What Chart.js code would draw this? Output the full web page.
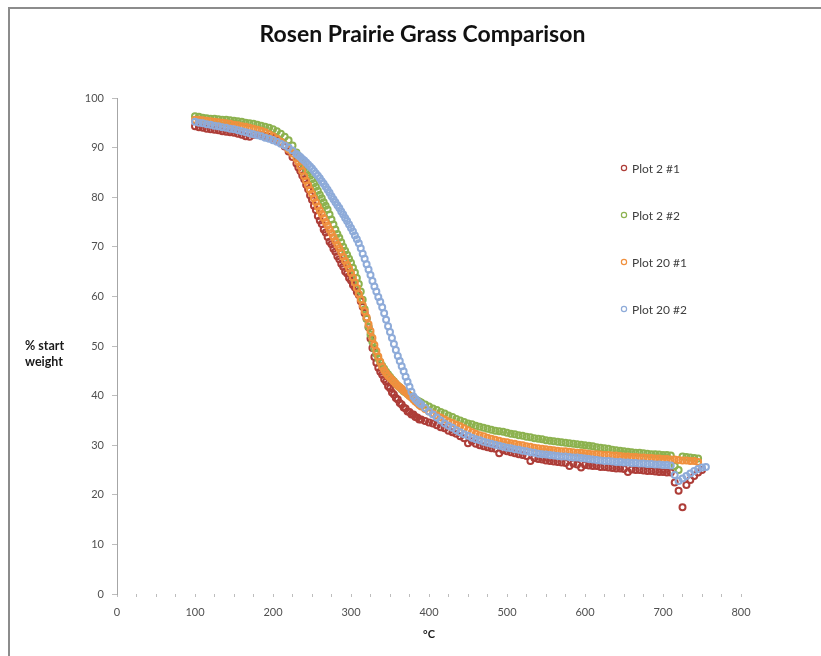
<!DOCTYPE html>
<html>
<head>
<meta charset="utf-8">
<title>Rosen Prairie Grass Comparison</title>
<script src="https://cdn.jsdelivr.net/npm/chart.js@4.4.0/dist/chart.umd.min.js"></script>
<style>
  html, body { margin: 0; padding: 0; background: #fff; overflow: hidden; }
  #chart { display: block; }
</style>
</head>
<body>
<canvas id="chart" width="821" height="656"></canvas>
<script>
// temperature, °C (finer steps through the steep part)
const temps = [
  100,105,110,115,120,125,130,135,140,145,
  150,155,160,165,170,175,180,185,190,195,
  200,205,210,215,220,225,230,
  232.5,235,237.5,240,242.5,245,247.5,250,252.5,255,
  257.5,260,262.5,265,267.5,270,272.5,275,277.5,280,
  282.5,285,287.5,290,292.5,295,297.5,300,302.5,305,
  307.5,310,312.5,315,317.5,320,322.5,325,327.5,330,
  332.5,335,337.5,340,342.5,345,347.5,350,352.5,355,
  357.5,360,362.5,365,367.5,370,372.5,375,377.5,380,
  382.5,385,387.5,
  390,395,400,405,410,415,420,425,430,435,
  440,445,450,455,460,465,470,475,480,485,
  490,495,500,505,510,515,520,525,530,535,
  540,545,550,555,560,565,570,575,580,585,
  590,595,600,605,610,615,620,625,630,635,
  640,645,650,655,660,665,670,675,680,685,
  690,695,700,705,710,715,720,725,730,735,
  740,745,750,755
];

// % start weight
const plot2_1 = [
  94.3,94.1,94.0,93.8,93.7,93.6,93.5,93.3,93.2,93.1,
  93.0,92.8,92.6,92.3,92.2,92.6,92.6,92.5,92.4,92.2,
  92.0,91.6,91.0,90.2,89.2,88.1,86.8,
  86.0,85.3,84.4,83.6,82.5,81.6,80.4,79.5,78.3,77.4,
  76.2,75.3,74.6,73.5,72.9,72.0,71.0,70.5,69.6,69.0,
  68.1,67.5,66.6,66.0,65.0,64.6,63.7,63.2,62.3,61.8,
  60.9,60.3,59.0,57.9,56.6,55.5,53.8,51.5,49.6,47.8,
  46.6,45.6,44.8,44.2,43.3,42.8,41.9,41.5,40.6,40.2,
  39.5,39.2,38.5,38.2,37.6,37.4,36.8,36.7,36.2,36.2,
  35.7,35.6,35.2,
  35.2,34.9,34.6,34.4,34.0,33.6,33.4,32.9,32.6,32.3,
  31.8,31.4,30.4,30.8,30.3,30.0,29.8,29.6,29.4,29.3,
  28.4,29.0,28.8,28.6,28.4,28.2,28.0,27.8,26.8,27.4,
  27.2,27.1,26.9,26.8,26.7,26.6,26.5,26.4,25.8,26.3,
  26.1,25.5,26.0,25.9,25.8,25.8,25.6,25.6,25.5,25.4,
  25.3,25.3,25.2,24.6,25.1,25.0,25.0,24.9,24.8,24.8,
  24.7,24.6,24.6,24.5,24.5,22.5,20.8,17.5,22.0,23.0,
  23.8,24.5,25.0,null
];

const plot2_2 = [
  96.3,96.2,96.0,95.9,95.8,95.8,95.7,95.6,95.6,95.5,
  95.4,95.3,95.2,95.0,94.9,94.8,94.6,94.4,94.2,94.0,
  93.7,93.3,92.8,92.2,91.5,90.4,89.0,
  88.3,87.7,87.0,86.3,85.6,85.0,84.3,83.6,82.8,82.1,
  81.3,80.5,79.8,79.0,78.3,77.5,76.5,75.5,74.5,73.5,
  72.6,71.8,70.9,70.0,69.2,68.4,67.6,66.8,65.8,64.8,
  63.7,62.5,61.0,59.3,57.4,55.5,53.9,52.3,50.8,49.5,
  48.4,47.5,46.7,46.0,45.4,44.8,44.3,43.8,43.3,42.9,
  42.4,42.0,41.7,41.3,40.9,40.6,40.3,40.0,39.7,39.5,
  39.2,39.0,38.8,
  38.6,38.2,37.8,37.4,37.1,36.7,36.4,36.0,35.7,35.3,
  35.0,34.7,34.4,34.2,33.9,33.7,33.5,33.3,33.1,32.9,
  32.8,32.7,32.5,32.3,32.2,32.0,31.9,31.7,31.6,31.4,
  31.3,31.2,31.0,30.9,30.8,30.7,30.6,30.5,30.4,30.3,
  30.2,30.1,30.0,29.9,29.8,29.6,29.5,29.4,29.3,29.1,
  29.0,28.9,28.8,28.7,28.6,28.5,28.5,28.4,28.3,28.2,
  28.2,28.1,28.0,28.0,27.9,25.8,25.0,27.7,27.6,27.5,
  27.4,27.3,null,null
];

const plot20_1 = [
  95.6,95.6,95.5,95.4,95.3,95.2,95.1,95.0,94.9,94.8,
  94.6,94.5,94.3,94.2,94.0,93.8,93.6,93.4,93.1,92.7,
  92.3,91.8,91.2,90.5,89.6,88.8,87.8,
  87.1,86.3,85.3,84.2,83.3,82.4,81.5,80.7,79.8,79.0,
  78.1,77.3,76.6,75.8,75.0,74.3,73.5,72.8,72.0,71.2,
  70.4,69.7,68.9,68.0,67.2,66.4,65.6,64.7,63.8,62.8,
  61.7,60.5,59.4,58.2,57.0,55.8,54.4,53.0,51.6,50.2,
  49.0,47.9,46.8,45.8,45.1,44.5,44.0,43.6,43.2,42.8,
  42.4,42.0,41.7,41.4,41.0,40.7,40.3,39.9,39.6,39.2,
  38.8,38.5,38.1,
  37.8,37.3,36.8,36.4,36.0,35.6,35.2,34.8,34.5,34.1,
  33.8,33.4,33.0,32.6,32.3,32.0,31.8,31.5,31.3,31.1,
  30.9,30.7,30.6,30.4,30.3,30.1,30.0,29.8,29.7,29.5,
  29.4,29.3,29.2,29.1,29.0,28.9,28.8,28.8,28.7,28.6,
  28.5,28.5,28.4,28.3,28.2,28.2,28.1,28.0,28.0,27.9,
  27.9,27.8,27.7,27.7,27.6,27.6,27.5,27.5,27.4,27.4,
  27.3,27.3,27.2,27.2,27.1,27.1,27.0,26.9,26.9,26.8,
  26.8,26.6,null,null
];

const plot20_2 = [
  95.2,95.0,94.9,94.7,94.6,94.4,94.3,94.1,94.0,93.8,
  93.7,93.5,93.3,93.1,92.9,92.7,92.5,92.3,92.0,91.8,
  91.5,91.2,90.8,90.4,90.0,89.4,88.7,
  88.4,88.1,87.7,87.4,87.0,86.6,86.2,85.8,85.3,84.8,
  84.3,83.8,83.2,82.7,82.1,81.5,80.9,80.2,79.6,79.0,
  78.4,77.8,77.1,76.5,75.8,75.2,74.5,73.8,73.1,72.3,
  71.5,70.7,69.7,68.6,67.6,66.5,65.4,64.3,63.1,62.0,
  61.0,59.9,58.9,57.8,56.6,55.3,54.0,52.8,51.6,50.4,
  49.2,48.0,47.0,45.9,44.9,43.8,42.8,41.8,40.8,39.8,
  39.3,38.9,38.5,
  38.2,37.5,36.8,36.2,35.6,35.0,34.4,33.9,33.5,33.0,
  32.6,32.2,31.9,31.5,31.2,31.0,30.7,30.5,30.3,30.1,
  29.9,29.7,29.5,29.4,29.2,29.1,28.9,28.8,28.6,28.5,
  28.3,28.2,28.1,28.0,27.9,27.8,27.7,27.7,27.6,27.5,
  27.5,27.4,27.3,27.2,27.1,27.0,26.9,26.8,26.8,26.7,
  26.6,26.6,26.5,26.5,26.4,26.4,26.3,26.3,26.2,26.2,
  26.1,26.1,26.0,26.0,25.9,24.0,22.8,23.3,23.8,24.3,
  24.8,25.2,25.5,25.6
];

const seriesNames = ["Plot 2 #1", "Plot 2 #2", "Plot 20 #1", "Plot 20 #2"];
const seriesColors = ["#ad3d38", "#8cb24f", "#f0903e", "#8eabd9"];
const chartTitle = "Rosen Prairie Grass Comparison";

Chart.defaults.font.family = 'Lato, "Open Sans", sans-serif';

function toPoints(vals) {
    return temps.map((t, i) => ({ x: t, y: vals[i] }));
}

// grey frame of the chart object: only its top and left edges are in view
const frame = {
    id: 'frame',
    beforeDraw(chart) {
        const ctx = chart.ctx;
        ctx.save();
        ctx.fillStyle = '#fff';
        ctx.fillRect(0, 0, chart.width, chart.height);
        ctx.strokeStyle = '#8c8c8c';
        ctx.lineWidth = 2;
        ctx.beginPath();
        ctx.moveTo(9, chart.height);
        ctx.lineTo(9, 8);
        ctx.lineTo(chart.width, 8);
        ctx.stroke();
        ctx.restore();
    }
};

// title centred on the whole picture, not only on the plot + axis part
const pageTitle = {
    id: 'pageTitle',
    afterDraw(chart) {
        const ctx = chart.ctx;
        ctx.save();
        ctx.font = 'bold 23px Lato';
        ctx.fillStyle = '#111';
        ctx.textAlign = 'center';
        ctx.textBaseline = 'middle';
        ctx.fillText(chartTitle, chart.width / 2 + 12, 35);
        ctx.restore();
    }
};

// legend sits inside the plot area on the right, like the original
const sideLegend = {
    id: 'sideLegend',
    afterDraw(chart) {
        const ctx = chart.ctx;
        const area = chart.chartArea;
        ctx.save();
        ctx.font = '12px Lato';
        ctx.textBaseline = 'middle';
        ctx.textAlign = 'left';
        chart.data.datasets.forEach((ds, i) => {
            const x = area.right - 117;
            const y = area.top + 70 + i * 47;
            ctx.beginPath();
            ctx.arc(x, y, 2.6, 0, Math.PI * 2);
            ctx.strokeStyle = ds.borderColor;
            ctx.lineWidth = 1.2;
            ctx.stroke();
            ctx.fillStyle = '#404040';
            ctx.fillText(ds.label, x + 8, y + 1);
        });
        ctx.restore();
    }
};

// horizontal y-axis title on the far left
const yTitle = {
    id: 'yTitle',
    afterDraw(chart) {
        const ctx = chart.ctx;
        const area = chart.chartArea;
        const cy = (area.top + area.bottom) / 2;
        ctx.save();
        ctx.font = 'bold 12.5px Lato';
        ctx.fillStyle = '#1a1a1a';
        ctx.textAlign = 'left';
        ctx.textBaseline = 'middle';
        ctx.fillText('% start', 25, cy);
        ctx.fillText('weight', 25, cy + 16);
        ctx.restore();
    }
};

const datasets = [plot2_1, plot2_2, plot20_1, plot20_2].map((vals, i) => ({
    label: seriesNames[i],
    data: toPoints(vals),
    borderColor: seriesColors[i],
    backgroundColor: 'transparent',
    pointStyle: 'circle',
    pointRadius: 3,
    pointBorderWidth: 2,
    showLine: false,
    order: 3 - i
}));

new Chart(document.getElementById('chart'), {
    type: 'scatter',
    data: { datasets: datasets },
    options: {
        responsive: false,
        animation: false,
        layout: { padding: { left: 0, right: 80, top: 98, bottom: 0 } },
        plugins: {
            legend: { display: false },
            tooltip: { enabled: false },
            title: { display: false }
        },
        scales: {
            x: {
                type: 'linear',
                min: 0,
                max: 800,
                border: { display: false },
                grid: { drawOnChartArea: false, drawTicks: true, tickLength: 3, color: '#bdbdbd' },
                ticks: {
                    stepSize: 25,
                    autoSkip: false,
                    maxRotation: 0,
                    padding: 9,
                    color: '#505050',
                    font: { size: 11 },
                    callback: v => (v % 100 === 0 ? v : '')
                },
                title: {
                    display: true,
                    text: '°C',
                    color: '#1a1a1a',
                    font: { size: 11, weight: 'bold' },
                    padding: { top: 4, bottom: 15 }
                },
                afterFit: s => { s.height = 62; }
            },
            y: {
                min: 0,
                max: 100,
                border: { display: true, color: '#a6a6a6' },
                grid: { drawOnChartArea: false, drawTicks: true, tickLength: 5, color: '#bdbdbd' },
                ticks: { stepSize: 10, padding: 8, color: '#505050', font: { size: 11 } },
                afterFit: s => { s.width = 117; }
            }
        }
    },
    plugins: [frame, pageTitle, sideLegend, yTitle]
});
</script>
</body>
</html>
